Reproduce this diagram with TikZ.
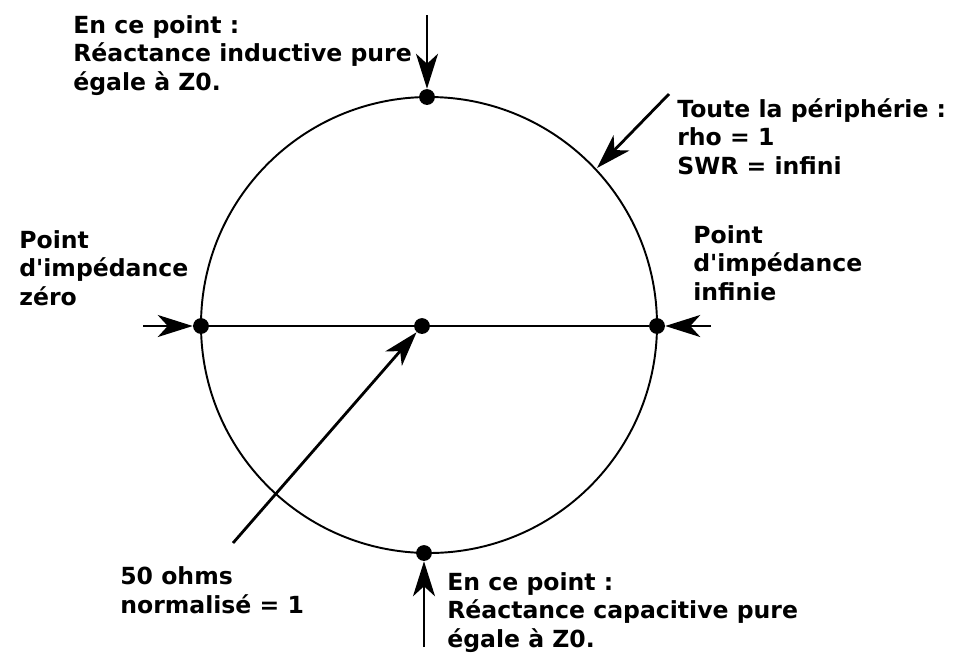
\documentclass[tikz,border=0pt]{standalone}
\usepackage{fontspec}
\setmainfont{DejaVu Sans}
\usetikzlibrary{arrows.meta}
\tikzstyle{dot} = [circle, fill=black, inner sep=0pt, minimum size=9pt]
\tikzstyle{label} = [anchor=base west, inner sep=0pt, align=left, font=\bfseries\fontsize{13.4}{16.2}\selectfont]
\tikzstyle{arrow} = [line width=1.6pt,-{Stealth[length=0.7cm,width=0.44cm,inset=0.2cm]}]

\begin{document}
\begin{tikzpicture}[x=0.02cm, y=-0.02cm]
            \useasboundingbox (0,0) rectangle (960,664);
            \draw[line width=1.1pt] (429,325) circle (228);

            \node(top) [dot] at (427,97) {};
            \node(bottom) [dot] at (424,553) {};
            \node(left) [dot] at (201,326) {};
            \node(right) [dot] at (657,326) {};
            \node(centre) [dot] at (422,326) {};
            \coordinate(rim) at (597,168);

            \coordinate(topstart) at (427,15);
            \coordinate(bottomstart) at (424,647);
            \coordinate(leftstart) at (143,326);
            \coordinate(rightstart) at (711,326);
            \coordinate(rimstart) at (669,94);
            \coordinate(ohmstart) at (233,543);

            \draw[line width=1.3pt] (left) -- (right);

            \draw[arrow] (topstart) -- (top);
            \draw[arrow] (bottomstart) -- (bottom);
            \draw[arrow] (leftstart) -- (left);
            \draw[arrow] (rightstart) -- (right);
            \draw[arrow] (rimstart) -- (rim);
            \draw[arrow] (ohmstart) -- (centre);

            % base = last line
            \node(inductive) [label] at (73,90) {En ce point :\\Réactance inductive pure\\égale à Z0.};
            \node(rho) [label] at (677,174) {Toute la périphérie :\\rho = 1\\SWR = infini};
            \node(zero) [label] at (19,305) {Point\\d\textquotesingle impédance\\zéro};
            \node(infinite) [label] at (693,300) {Point\\d\textquotesingle impédance\\infinie};
            \node(ohms) [label] at (120,613) {50 ohms\\normalisé = 1};
            \node(capacitive) [label] at (447,647) {En ce point :\\Réactance capacitive pure\\égale à Z0.};
        \end{tikzpicture}
\end{document}
